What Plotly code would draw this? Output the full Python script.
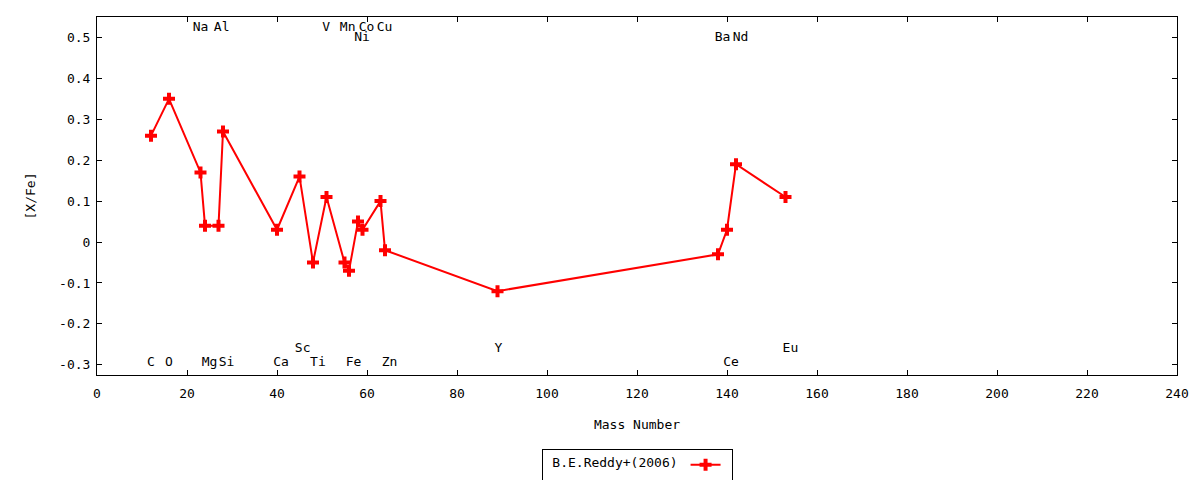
import plotly.graph_objects as go

# === DATA ===
mass = [12, 16, 23, 24, 27, 28, 40, 45, 48, 51, 55, 56, 58, 59, 63, 64, 89, 138, 140, 142, 153]
xfe = [0.26, 0.35, 0.17, 0.04, 0.04, 0.27, 0.03, 0.16, -0.05, 0.11, -0.05, -0.07,
       0.05, 0.03, 0.10, -0.02, -0.12, -0.03, 0.03, 0.19, 0.11]

elem_names = ['C', 'O', 'Na', 'Mg', 'Al', 'Si', 'Ca', 'Sc', 'Ti', 'V', 'Mn', 'Fe',
              'Ni', 'Co', 'Cu', 'Zn', 'Y', 'Ba', 'Ce', 'Nd', 'Eu']
label_x = [12, 16, 23, 25, 27.7, 28.8, 40.9, 45.7, 49.1, 50.9, 55.7, 57,
           58.9, 59.9, 63.9, 65, 89.2, 139, 140.9, 143, 154.1]
label_y = [-0.295, -0.295, 0.524, -0.295, 0.524, -0.295, -0.295, -0.261, -0.295, 0.524, 0.524, -0.295,
           0.5, 0.524, 0.524, -0.295, -0.261, 0.5, -0.295, 0.5, -0.261]

xticks = list(range(0, 241, 20))
yticks = [-0.3, -0.2, -0.1, 0, 0.1, 0.2, 0.3, 0.4, 0.5]
ytick_text = ['-0.3', '-0.2', '-0.1', '0', '0.1', '0.2', '0.3', '0.4', '0.5']

series_label = 'B.E.Reddy+(2006)'

FONT = 'DejaVu Sans Mono'

fig = go.Figure()

# name left empty: the label goes in the legend title so it sits left of the sample (gnuplot style)
fig.add_trace(go.Scatter(
    x=mass, y=xfe, mode='lines+markers', name='',
    line=dict(color='#ff0000', width=2),
    marker=dict(symbol='cross', size=10, color='#ff0000'),
))

# element names
fig.add_trace(go.Scatter(
    x=label_x, y=label_y, mode='text', text=elem_names,
    textposition='middle center', textfont=dict(family=FONT, size=13, color='black'),
    showlegend=False, hoverinfo='skip', cliponaxis=False,
))

axis_common = dict(
    showline=True, linecolor='black', linewidth=1, mirror='ticks',
    ticks='inside', ticklen=5, tickcolor='black', showgrid=False, zeroline=False,
    tickfont=dict(family=FONT, size=13, color='black'),
)

fig.update_xaxes(range=[0, 240], tickvals=xticks, ticklabelstandoff=6,
                 title=dict(text='Mass Number', standoff=20,
                            font=dict(family=FONT, size=13, color='black')),
                 **axis_common)
fig.update_yaxes(range=[-0.325, 0.55], tickvals=yticks, ticktext=ytick_text,
                 ticklabelstandoff=3,
                 title=dict(text='[X/Fe]', standoff=20,
                            font=dict(family=FONT, size=13, color='black')),
                 **axis_common)

# page body has an 8px margin, so the figure is 8px smaller each way
fig.update_layout(
    width=1192, height=472,
    margin=dict(l=89, r=23, t=9, b=105),
    plot_bgcolor='white', paper_bgcolor='white',
    font=dict(family=FONT, size=13, color='black'),
    showlegend=True,
    legend=dict(orientation='h', x=0.5, xanchor='center',
                yref='container', y=0.032, yanchor='middle',
                title=dict(text=' ' + series_label, side='left',
                           font=dict(family=FONT, size=13, color='black')),
                bordercolor='black', borderwidth=1, bgcolor='white',
                font=dict(family=FONT, size=13, color='black')),
)

fig.write_html("out.html")
